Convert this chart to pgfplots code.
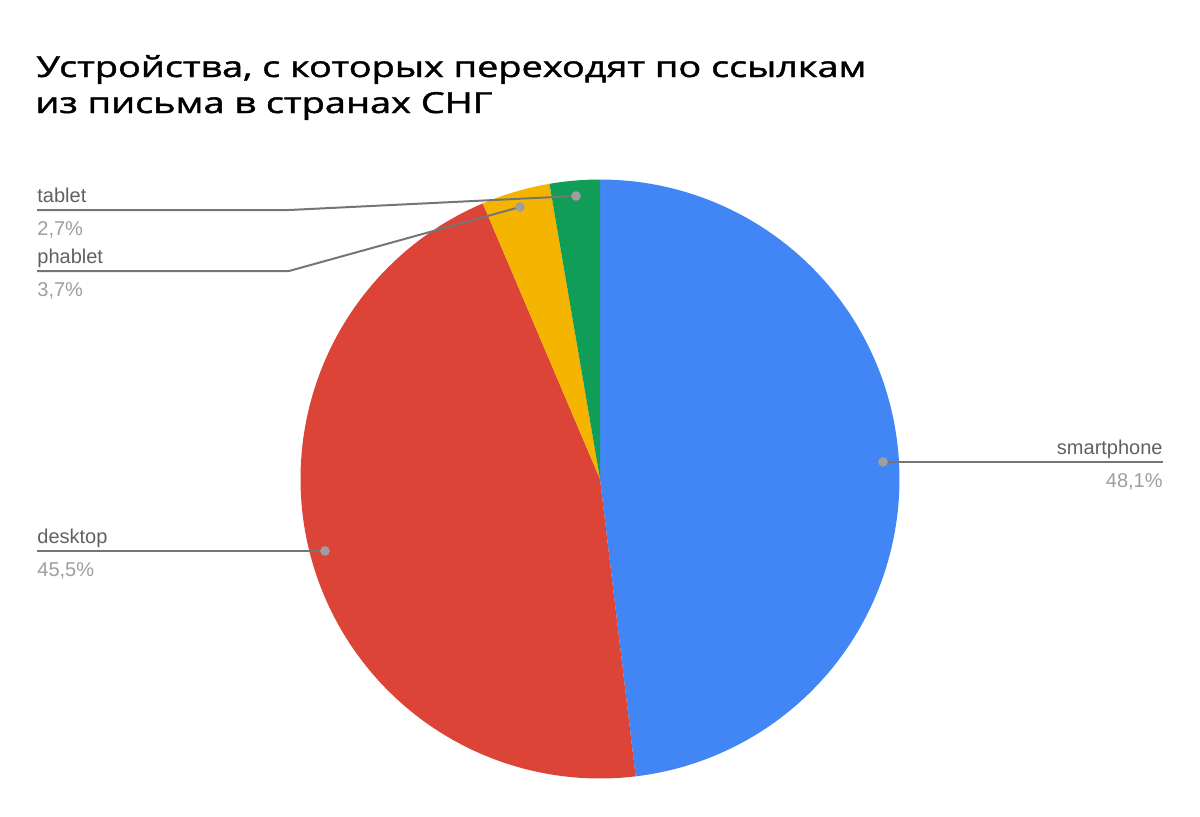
\documentclass[border=0pt]{standalone}
\usepackage{pgfplots}
\pgfplotsset{compat=1.18}
\usepackage{fontspec}
\usepackage{graphicx}
\setmainfont{Liberation Sans}
\newfontfamily\titlefont[FakeBold=1.3]{Open Sans}
\definecolor{cblue}{HTML}{4285F4}
\definecolor{cred}{HTML}{DB4437}
\definecolor{cyellow}{HTML}{F4B400}
\definecolor{cgreen}{HTML}{0F9D58}
\definecolor{labelc}{HTML}{616161}
\definecolor{valc}{HTML}{9E9E9E}
\definecolor{linec}{HTML}{757575}
\definecolor{dotc}{HTML}{9E9E9E}
% slice: start percent, percent, colour
\newcommand{\slice}[3]{%
  \pgfmathsetmacro{\aS}{90-3.6*(#1)}%
  \pgfmathsetmacro{\aE}{90-3.6*(#1+#2)}%
  \edef\doslice{\noexpand\addplot[fill=#3, draw=none, domain=\aE:\aS, samples=150, variable=\noexpand\t]
    ({600+299.5*cos(\noexpand\t)},{479-299.5*sin(\noexpand\t)}) -- (axis cs:600,479) -- cycle;}%
  \doslice
}
\begin{document}
\begin{tikzpicture}
\begin{axis}[
  width=600pt, height=408pt, scale only axis,
  xmin=0, xmax=1200, ymin=0, ymax=816, y dir=reverse,
  hide axis, clip=false,
]
% pie: smartphone 48.1, desktop 45.5, phablet 3.7, tablet 2.7
\slice{0}{48.1}{cblue}
\slice{48.1}{45.5}{cred}
\slice{93.6}{3.7}{cyellow}
\slice{97.3}{2.7}{cgreen}
% leader lines
\addplot[linec, line width=1pt] coordinates {(883,462) (1163,462)};
\addplot[linec, line width=1pt] coordinates {(325,551) (37,551)};
\addplot[linec, line width=1pt] coordinates {(520,207) (289,271) (37,271)};
\addplot[linec, line width=1pt] coordinates {(576,196) (289,210) (37,210)};
\addplot[only marks, mark=*, mark size=2.2pt, dotc, mark options={draw=dotc, fill=dotc}]
  coordinates {(883,462) (325,551) (520,207) (576,196)};
% labels
\begingroup
\fontsize{11.2pt}{12pt}\selectfont
\node[anchor=base east, inner sep=0, text=labelc] at (axis cs:1163,454) {smartphone};
\node[anchor=base east, inner sep=0, text=valc] at (axis cs:1163,487) {48,1\%};
\node[anchor=base west, inner sep=0, text=labelc] at (axis cs:37,543) {desktop};
\node[anchor=base west, inner sep=0, text=valc] at (axis cs:37,576) {45,5\%};
\node[anchor=base west, inner sep=0, text=labelc] at (axis cs:37,263) {phablet};
\node[anchor=base west, inner sep=0, text=valc] at (axis cs:37,296) {3,7\%};
\node[anchor=base west, inner sep=0, text=labelc] at (axis cs:37,202) {tablet};
\node[anchor=base west, inner sep=0, text=valc] at (axis cs:37,235) {2,7\%};
\endgroup
% title
\node[anchor=base west, inner sep=0] at (axis cs:36,77)
  {\resizebox{415pt}{\height}{\titlefont\fontsize{14.5pt}{16pt}\selectfont Устройства, с которых переходят по ссылкам}};
\node[anchor=base west, inner sep=0] at (axis cs:35,113)
  {\resizebox{228.5pt}{\height}{\titlefont\fontsize{14.5pt}{16pt}\selectfont из письма в странах СНГ}};
\end{axis}
\pgfresetboundingbox
\path (current axis.south west) rectangle (current axis.north east);
\end{tikzpicture}
\end{document}
